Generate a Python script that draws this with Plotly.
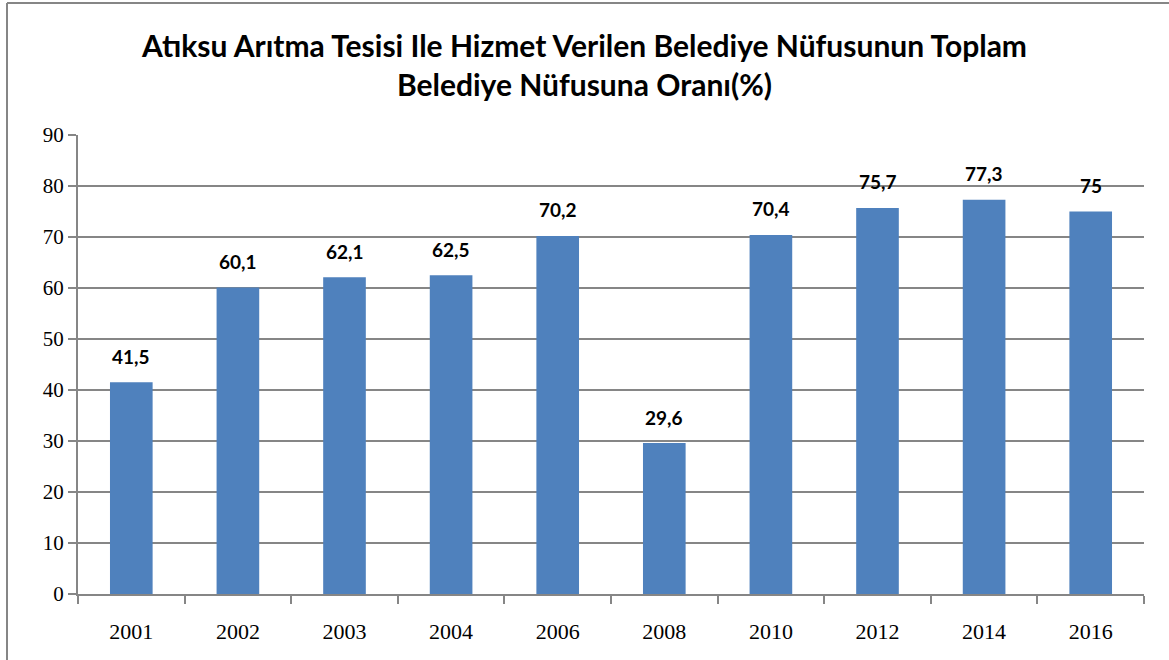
import plotly.graph_objects as go

years = ["2001", "2002", "2003", "2004", "2006", "2008", "2010", "2012", "2014", "2016"]
values = [41.5, 60.1, 62.1, 62.5, 70.2, 29.6, 70.4, 75.7, 77.3, 75]
labels = ["41,5", "60,1", "62,1", "62,5", "70,2", "29,6", "70,4", "75,7", "77,3", "75"]
y_ticks = [0, 10, 20, 30, 40, 50, 60, 70, 80, 90]

fig = go.Figure(go.Bar(
    x=years, y=values,
    marker=dict(color="#4F81BD", line=dict(width=0)),
    width=0.4,
))

for i, (v, lb) in enumerate(zip(values, labels)):
    fig.add_annotation(
        x=i, y=v, text="<b>" + lb + "</b>", showarrow=False,
        yanchor="middle", yshift=26,
        font=dict(family="Lato, Open Sans, sans-serif", size=19, color="black"),
    )

L, R, T, B = 78, 25, 135, 66
W, H = 1169, 660
pw, ph = W - L - R, H - T - B
def px(xp): return (xp - L) / pw
def py(yp): return (H - B - yp) / ph

fig.update_layout(
    width=W, height=H,
    margin=dict(l=L, r=R, t=T, b=B),
    plot_bgcolor="white", paper_bgcolor="white",
    showlegend=False,
    title=dict(
        text="<b>Atıksu Arıtma Tesisi Ile Hizmet Verilen Belediye Nüfusunun Toplam<br>Belediye Nüfusuna Oranı(%)</b>",
        x=0.5, xanchor="center", y=1 - 57 / H, yanchor="middle",
        font=dict(family="Lato, Open Sans, sans-serif", size=30, color="black"),
    ),
    xaxis=dict(
        type="category", range=[-0.5, len(years) - 0.5], autorange=False,
        tickson="boundaries", ticks="outside", ticklen=8,
        tickcolor="#868686", tickwidth=2, showline=True, linecolor="#868686", linewidth=2,
        tickfont=dict(family="Liberation Serif, DejaVu Serif, serif", size=22, color="black"),
        showgrid=False, ticklabelstandoff=17, tickangle=0,
    ),
    yaxis=dict(
        range=[0, 90], autorange=False, tickvals=y_ticks, ticks="outside", ticklen=8,
        tickcolor="#868686", tickwidth=2, showline=True, linecolor="#868686", linewidth=2,
        gridcolor="#868686", gridwidth=2, zeroline=False,
        tickfont=dict(family="Liberation Serif, DejaVu Serif, serif", size=21, color="black"),
    ),
    shapes=[
        dict(type="line", xref="paper", yref="paper", x0=px(7), x1=px(7), y0=py(3), y1=py(662),
             line=dict(color="#868686", width=2)),
        dict(type="line", xref="paper", yref="paper", x0=px(7), x1=px(1172), y0=py(3), y1=py(3),
             line=dict(color="#868686", width=2)),
    ],
)

fig.write_html("out.html", config={"displayModeBar": False},
               post_script="document.body.style.margin='0';document.body.style.overflow='hidden';")
